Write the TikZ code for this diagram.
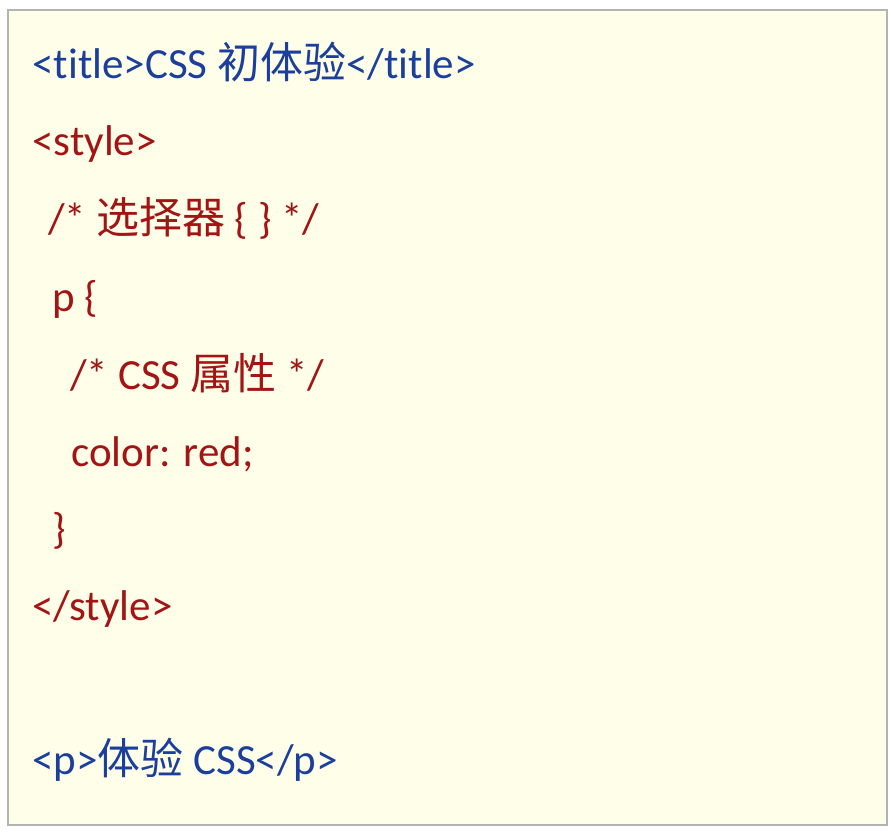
\documentclass[tikz,border=0pt]{standalone}
\usepackage{fontspec}
\setmainfont{Carlito}[Ligatures={NoCommon}]
\newfontfamily\cjk{Noto Sans CJK SC}
\usepackage{xcolor}
\definecolor{tagblue}{HTML}{1B3F9B}
\definecolor{cssred}{HTML}{A31515}
\definecolor{paper}{HTML}{FEFEE9}
\definecolor{frame}{HTML}{B4B4B4}
\newcommand{\codesize}{\fontsize{21.5pt}{25pt}\selectfont}

\begin{document}
\begin{tikzpicture}[x=0.5pt,y=-0.5pt]
                \useasboundingbox (0,0) rectangle (893,835);
                \draw[frame,fill=paper,line width=1.2pt] (8,10) rectangle (887,825);

                \begin{scope}[every node/.style={anchor=base west,inner sep=0pt,font=\codesize}]
                    \node[tagblue] (title) at (32,78) {<title>CSS {\cjk 初体验}</title>};
                    \node[cssred] (styleopen) at (32,155) {<style>};
                    \node[cssred] (selcomment) at (48,233) {/* {\cjk 选择器} \{ \} */};
                    \node[cssred] (psel) at (52,311) {p \{};
                    \node[cssred] (propcomment) at (70,389) {/* CSS {\cjk 属性} */};
                    \node[cssred] (colordecl) at (71,466) {color: red;};
                    \node[cssred] (pclose) at (52,543) {\}};
                    \node[cssred] (styleclose) at (32,620) {</style>};
                    \node[tagblue] (pbody) at (32,774) {<p>{\cjk 体验} CSS</p>};
                \end{scope}
            \end{tikzpicture}
\end{document}
